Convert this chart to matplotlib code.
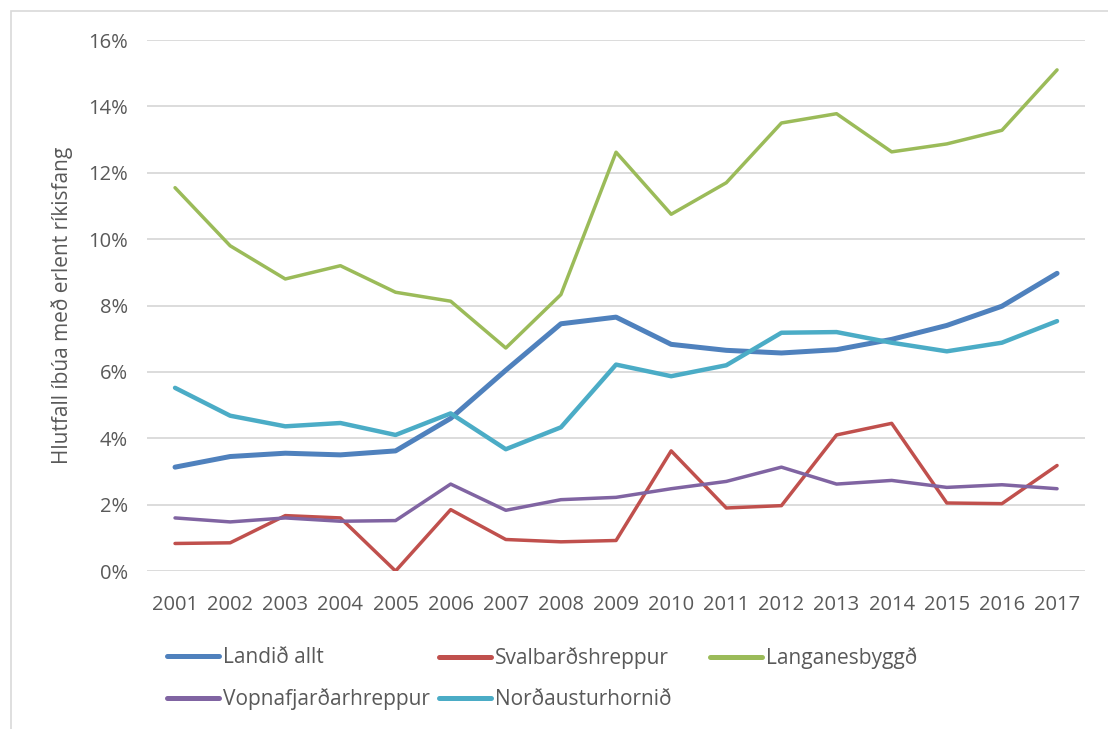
import matplotlib.pyplot as plt
from matplotlib.patches import Rectangle
import numpy as np

plt.rcParams['font.family'] = ['Open Sans', 'DejaVu Sans']

years = [str(y) for y in range(2001, 2018)]

# values in percent
landid_allt = [3.13, 3.45, 3.55, 3.50, 3.62, 4.60, 6.05, 7.45, 7.65, 6.83,
               6.65, 6.57, 6.67, 6.98, 7.40, 7.98, 8.97]
svalbard = [0.83, 0.85, 1.67, 1.60, 0.00, 1.85, 0.95, 0.88, 0.92, 3.62,
            1.90, 1.97, 4.10, 4.45, 2.05, 2.03, 3.18]
langanes = [11.55, 9.80, 8.80, 9.20, 8.40, 8.13, 6.72, 8.33, 12.62, 10.75,
            11.70, 13.50, 13.78, 12.63, 12.87, 13.28, 15.10]
vopnafjordur = [1.60, 1.48, 1.60, 1.50, 1.52, 2.62, 1.83, 2.15, 2.22, 2.48,
                2.70, 3.13, 2.62, 2.73, 2.52, 2.60, 2.48]
nordaustur = [5.52, 4.68, 4.36, 4.46, 4.10, 4.75, 3.67, 4.33, 6.22, 5.87,
              6.20, 7.18, 7.20, 6.88, 6.62, 6.88, 7.53]

series = [
    ("Landið allt", landid_allt, "#4F81BD", 3.6),
    ("Svalbarðshreppur", svalbard, "#C0504D", 2.5),
    ("Langanesbyggð", langanes, "#9BBB59", 2.5),
    ("Vopnafjarðarhreppur", vopnafjordur, "#8064A2", 2.5),
    ("Norðausturhornið", nordaustur, "#4BACC6", 3.2),
]

fig = plt.figure(figsize=(11.08, 7.29), dpi=100)
ax = fig.add_axes([0.1331, 0.2167, 0.9789 - 0.1331, 0.9451 - 0.2167])

# light frame around the chart area
fig.patches.append(Rectangle((11 / 1108, -0.1), 1.2, 1 - 11 / 729 + 0.1,
                             transform=fig.transFigure, fill=False,
                             edgecolor="#D9D9D9", linewidth=1.2))

x = np.arange(len(years))
handles = {}
for name, vals, col, lw in series:
    ln, = ax.plot(x, vals, color=col, linewidth=lw, label=name,
                  solid_capstyle='round', solid_joinstyle='round')
    handles[name] = ln

ax.set_xlim(-0.5, len(years) - 0.5)
ax.set_ylim(0, 16)
ax.set_yticks(range(0, 17, 2))
ax.set_yticklabels([f"{v}%" for v in range(0, 17, 2)])
ax.set_xticks(x)
ax.set_xticklabels(years)
ax.grid(axis='y', color='#D9D9D9', linewidth=1.3)
ax.set_axisbelow(True)
for s in ax.spines.values():
    s.set_visible(False)
ax.tick_params(length=0, labelsize=14.5, colors='#595959')
ax.tick_params(axis='x', pad=17)
ax.tick_params(axis='y', pad=14)
ax.set_ylabel("Hlutfall íbúa með erlent ríkisfang", fontsize=15,
              color='#595959', labelpad=11)

# legend in equal-width columns, filled row by row
columns = [["Landið allt", "Vopnafjarðarhreppur"],
           ["Svalbarðshreppur", "Norðausturhornið"],
           ["Langanesbyggð"]]
col_x = [148, 420, 691]
for names, px in zip(columns, col_x):
    leg = fig.legend([handles[n] for n in names], names, frameon=False,
                     loc='upper left', bbox_to_anchor=(px / 1108, 0.1376),
                     fontsize=15, labelcolor='#595959', handlelength=2.5,
                     handletextpad=0.2, labelspacing=0.95)
    for h in leg.legend_handles:
        h.set_linewidth(3.6)

fig.savefig("out.png", dpi=100)
